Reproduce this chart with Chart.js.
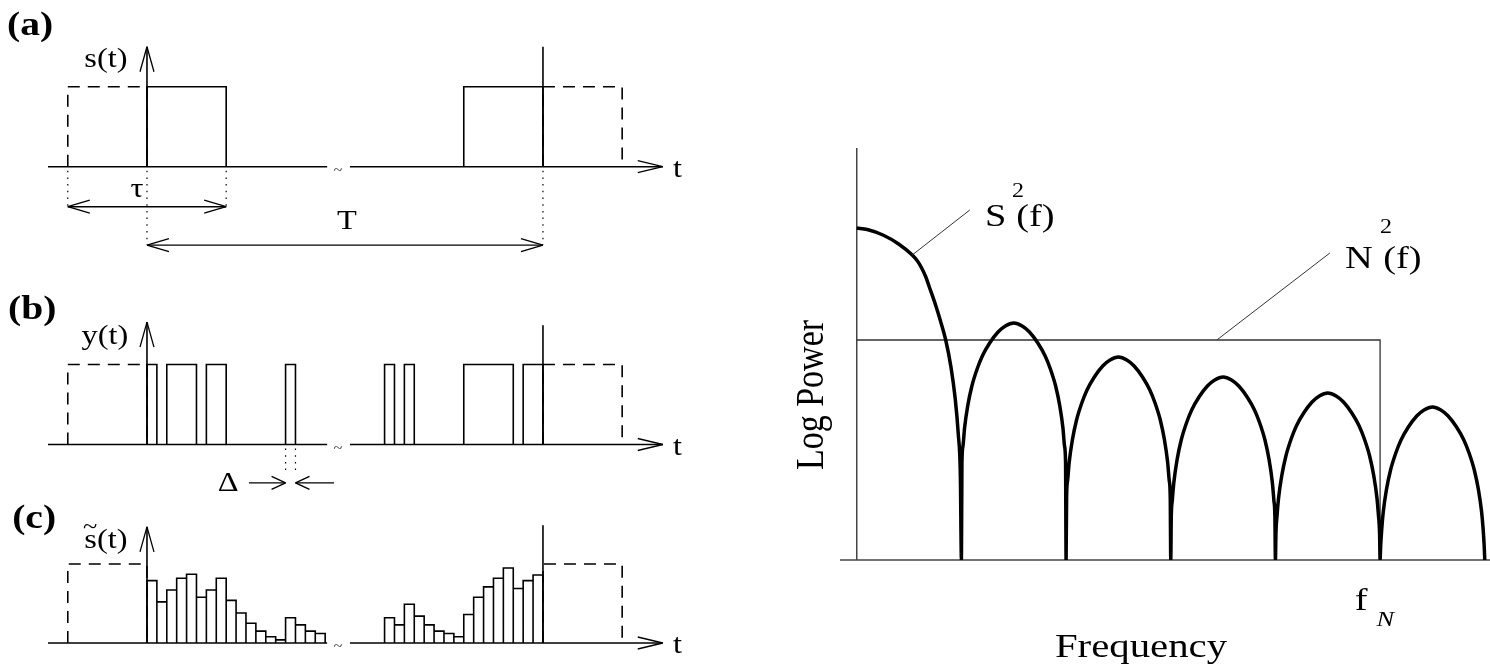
<!DOCTYPE html>
<html>
<head>
<meta charset="utf-8">
<script src="https://cdn.jsdelivr.net/npm/chart.js@4.4.1/dist/chart.umd.min.js"></script>
<style>
  html, body { margin: 0; padding: 0; background: #fff; width: 1490px; height: 669px; overflow: hidden; }
  canvas { position: absolute; }
</style>
</head>
<body>
<canvas id="panelA" width="700" height="260" style="left:0;top:0"></canvas>
<canvas id="panelB" width="700" height="230" style="left:0;top:270px"></canvas>
<canvas id="panelC" width="700" height="169" style="left:0;top:500px"></canvas>
<canvas id="spectrum" width="710" height="669" style="left:780px;top:0"></canvas>
<script>
// Time in units of the sample width Δ, amplitude 0..1
const tau = 8;
const period = 40;

// (a) the pulse s(t) and its dashed periodic copies
const pulseStart = [0, 32];
const pulseEnd = [8, 40];
const ghostStart = [-8, 40];
const ghostEnd = [0, 48];

// (b) the clipped record y(t)
const clipStart = [0, 2, 6, 14, 24, 26, 32, 38];
const clipEnd = [1, 5, 8, 15, 25, 27, 37, 40];

// (c) reconstructed s~(t), one bar per Δ
const histLeftStart = 0;
const histLeft = [0.79, 0.52, 0.67, 0.82, 0.87, 0.58, 0.67, 0.82, 0.54, 0.38, 0.25, 0.15, 0.08, 0.04, 0.32, 0.23, 0.15, 0.12];
const histRightStart = 24;
const histRight = [0.32, 0.23, 0.49, 0.34, 0.23, 0.15, 0.12, 0.08, 0.36, 0.58, 0.71, 0.82, 0.95, 0.69, 0.79, 0.86];

// right: log power spectrum, frequency in units of 1/tau
const spectrumFreq = [
  0.00, 0.10, 0.25, 0.40, 0.53, 0.58, 0.62, 0.66, 0.69, 0.75, 0.80, 0.85, 0.90, 0.94, 0.97, 0.99, 1.00,
  1.005, 1.015, 1.03, 1.06, 1.10, 1.15, 1.20, 1.27, 1.35, 1.42, 1.50, 1.58, 1.65, 1.73, 1.80, 1.85, 1.90, 1.94, 1.97, 1.985, 1.995, 2.00,
  2.005, 2.015, 2.03, 2.06, 2.10, 2.15, 2.20, 2.27, 2.35, 2.42, 2.50, 2.58, 2.65, 2.73, 2.80, 2.85, 2.90, 2.94, 2.97, 2.985, 2.995, 3.00,
  3.005, 3.015, 3.03, 3.06, 3.10, 3.15, 3.20, 3.27, 3.35, 3.42, 3.50, 3.58, 3.65, 3.73, 3.80, 3.85, 3.90, 3.94, 3.97, 3.985, 3.995, 4.00,
  4.005, 4.015, 4.03, 4.06, 4.10, 4.15, 4.20, 4.27, 4.35, 4.42, 4.50, 4.58, 4.65, 4.73, 4.80, 4.85, 4.90, 4.94, 4.97, 4.985, 4.995, 5.00,
  5.005, 5.015, 5.03, 5.06, 5.10, 5.15, 5.20, 5.27, 5.35, 5.42, 5.50, 5.58, 5.65, 5.73, 5.80, 5.85, 5.90, 5.94, 5.97, 5.985, 5.995, 6.00
];
const spectrumPower = [
  33.2, 33.05, 32.5, 31.6, 30.5, 29.9, 29.2, 28.3, 27.4, 25.6, 23.9, 22.0, 19.3, 16.2, 12.6, 8.4, 0,
  9.7, 11.4, 13.2, 15.4, 17.4, 19.1, 20.4, 21.7, 22.8, 23.4, 23.7, 23.4, 22.8, 21.7, 20.4, 19.1, 17.4, 15.4, 13.2, 11.4, 9.7, 0,
  6.3, 8.0, 9.8, 12.0, 14.0, 15.7, 17.0, 18.3, 19.4, 20.0, 20.3, 20.0, 19.4, 18.3, 17.0, 15.7, 14.0, 12.0, 9.8, 8.0, 6.3, 0,
  4.3, 6.0, 7.8, 10.0, 12.0, 13.7, 15.0, 16.3, 17.4, 18.0, 18.3, 18.0, 17.4, 16.3, 15.0, 13.7, 12.0, 10.0, 7.8, 6.0, 4.3, 0,
  2.7, 4.4, 6.2, 8.4, 10.4, 12.1, 13.4, 14.7, 15.8, 16.4, 16.7, 16.4, 15.8, 14.7, 13.4, 12.1, 10.4, 8.4, 6.2, 4.4, 2.7, 0,
  1.3, 3.0, 4.8, 7.0, 9.0, 10.7, 12.0, 13.3, 14.4, 15.0, 15.3, 15.0, 14.4, 13.3, 12.0, 10.7, 9.0, 7.0, 4.8, 3.0, 1.3, 0
];
const noiseFreq = [0, 5, 5];
const noisePower = [22.0, 22.0, 0];
const nyquist = 5;

const INK = '#000';
const SERIF = '"Liberation Serif", "DejaVu Serif", serif';
const STRETCH = 1.2;

function pulsePoints(starts, ends) {
  const pts = [];
  starts.forEach((a, i) => {
    const b = ends[i];
    pts.push({x: a, y: 0}, {x: a, y: 1}, {x: b, y: 1}, {x: b, y: 0}, {x: b, y: null});
  });
  return pts;
}

function histPoints(start, heights) {
  const pts = [{x: start, y: 0}];
  heights.forEach((h, i) => {
    pts.push({x: start + i, y: h}, {x: start + i + 1, y: h}, {x: start + i + 1, y: 0});
  });
  return pts;
}

function seg(ctx, x1, y1, x2, y2) {
  ctx.beginPath();
  ctx.moveTo(x1, y1);
  ctx.lineTo(x2, y2);
  ctx.stroke();
}

// open arrowhead: two strokes back from the tip
function head(ctx, tx, ty, dx, dy, len, half) {
  const n = Math.hypot(dx, dy), ux = dx / n, uy = dy / n;
  const bx = tx - ux * len, by = ty - uy * len;
  seg(ctx, tx, ty, bx - uy * half, by + ux * half);
  seg(ctx, tx, ty, bx + uy * half, by - ux * half);
}

function drawText(ctx, str, x, y, size, opt) {
  opt = opt || {};
  ctx.save();
  ctx.translate(x, y);
  if (opt.rotate) {
    ctx.rotate(opt.rotate);
    ctx.scale(1, STRETCH);
  } else {
    ctx.scale(STRETCH, 1);
  }
  ctx.font = (opt.italic ? 'italic ' : '') + (opt.bold ? 'bold ' : '') + size + 'px ' + SERIF;
  ctx.fillStyle = INK;
  ctx.textAlign = opt.align || 'center';
  ctx.textBaseline = opt.baseline || 'middle';
  ctx.fillText(str, 0, 0);
  ctx.restore();
}

// decorations for the three time panels, in data units
const timeSpecs = {
  panelA: {
    arrowTop: 1.5, markTop: 1.5,
    dotted: [[-8, -0.5], [8, -0.5], [0, -0.98], [40, -0.98]],
    arrows: [[-8, 8, -0.5, true, true], [0, 40, -0.98, true, true]],
    labels: [
      {text: '(a)', t: -11.8, v: 1.75, size: 33, bold: true},
      {text: 's(t)', t: -4.15, v: 1.33, size: 27},
      {text: 'τ', t: -1.0, v: -0.29, size: 27},
      {text: 'T', t: 20.2, v: -0.69, size: 27}
    ]
  },
  panelB: {
    arrowTop: 1.53, markTop: 1.49,
    dotted: [[14, -0.36], [15, -0.36]],
    arrows: [[10.3, 14, -0.48, false, true], [18.9, 15, -0.48, false, true]],
    labels: [
      {text: '(b)', t: -11.6, v: 1.68, size: 33, bold: true},
      {text: 'y(t)', t: -4.25, v: 1.35, size: 27},
      {text: 'Δ', t: 8.2, v: -0.49, size: 27}
    ]
  },
  panelC: {
    arrowTop: 1.47, markTop: 1.49,
    dotted: [],
    arrows: [],
    labels: [
      {text: '(c)', t: -11.4, v: 1.57, size: 33, bold: true},
      {text: 's(t)', t: -4.15, v: 1.29, size: 27},
      {text: '~', t: -5.75, v: 1.47, size: 22}
    ]
  }
};

const timeDecor = {
  id: 'timeDecor',
  beforeDatasetsDraw(chart) {
    const {ctx, scales: {x, y}} = chart;
    const s = timeSpecs[chart.canvas.id];
    const y0 = y.getPixelForValue(0);
    ctx.save();
    ctx.strokeStyle = INK;
    ctx.lineWidth = 1.6;
    // broken time axis
    seg(ctx, x.getPixelForValue(-10), y0, x.getPixelForValue(18.2), y0);
    seg(ctx, x.getPixelForValue(20.5), y0, x.getPixelForValue(52.1), y0);
    // amplitude axis at t = 0 and marker line at t = T
    const ax = x.getPixelForValue(0);
    seg(ctx, ax, y0, ax, y.getPixelForValue(s.arrowTop));
    const tx = x.getPixelForValue(period);
    seg(ctx, tx, y0, tx, y.getPixelForValue(s.markTop));
    ctx.restore();
  },
  afterDatasetsDraw(chart) {
    const {ctx, scales: {x, y}} = chart;
    const s = timeSpecs[chart.canvas.id];
    const y0 = y.getPixelForValue(0);
    ctx.save();
    ctx.strokeStyle = INK;
    ctx.lineWidth = 1.3;
    head(ctx, x.getPixelForValue(0), y.getPixelForValue(s.arrowTop), 0, -1, 25, 7);
    head(ctx, x.getPixelForValue(52.1), y0, 1, 0, 25, 6);

    ctx.setLineDash([1.5, 5.2]);
    ctx.lineWidth = 1.2;
    s.dotted.forEach(([t, v]) => {
      const px = x.getPixelForValue(t);
      seg(ctx, px, y0 + 4, px, y.getPixelForValue(v));
    });
    ctx.setLineDash([]);

    ctx.lineWidth = 1.4;
    s.arrows.forEach(([t0, t1, v, h0, h1]) => {
      const p0 = x.getPixelForValue(t0), p1 = x.getPixelForValue(t1), py = y.getPixelForValue(v);
      seg(ctx, p0, py, p1, py);
      const len = Math.abs(p1 - p0) > 60 ? 22 : 14;
      if (h1) head(ctx, p1, py, p1 - p0, 0, len, 6.5);
      if (h0) head(ctx, p0, py, p0 - p1, 0, len, 6.5);
    });
    ctx.restore();

    s.labels.forEach(l => drawText(ctx, l.text, x.getPixelForValue(l.t), y.getPixelForValue(l.v), l.size, {bold: l.bold}));
    drawText(ctx, 't', x.getPixelForValue(53.6), y.getPixelForValue(-0.04), 27);
    drawText(ctx, '~', x.getPixelForValue(19.3), y0 + 4, 13);
  }
};

function lineSet(points, extra) {
  return Object.assign({
    data: points,
    borderColor: INK,
    borderWidth: 1.6,
    pointRadius: 0,
    tension: 0,
    fill: false,
    spanGaps: false
  }, extra || {});
}

function timePanel(id, top, baseline, unit, yMin, yMax, datasets) {
  const c = document.getElementById(id);
  new Chart(c, {
    type: 'line',
    data: {datasets: datasets},
    options: {
      responsive: false,
      animation: false,
      devicePixelRatio: 1,
      events: [],
      layout: {
        padding: {
          left: 46,
          right: 32.3,
          top: baseline - yMax * unit - top,
          bottom: top + c.height - (baseline - yMin * unit)
        }
      },
      scales: {
        x: {type: 'linear', min: -10.2, max: 52.6, display: false},
        y: {type: 'linear', min: yMin, max: yMax, display: false}
      },
      plugins: {legend: {display: false}, tooltip: {enabled: false}}
    },
    plugins: [timeDecor]
  });
}

const dashed = () => lineSet(pulsePoints(ghostStart, ghostEnd), {borderDash: [12, 8], order: 2});

timePanel('panelA', 0, 166.7, 80, -1.1, 1.5, [
  dashed(),
  lineSet(pulsePoints(pulseStart, pulseEnd), {order: 1})
]);

timePanel('panelB', 270, 444.5, 80, -0.62, 1.55, [
  dashed(),
  lineSet(pulsePoints(clipStart, clipEnd), {order: 1})
]);

timePanel('panelC', 500, 643, 79, -0.25, 1.48, [
  dashed(),
  lineSet(histPoints(histLeftStart, histLeft), {order: 1}),
  lineSet(histPoints(histRightStart, histRight), {order: 1})
]);

// spectrum panel
const specDecor = {
  id: 'specDecor',
  beforeDatasetsDraw(chart) {
    const {ctx, chartArea: a, scales: {x, y}} = chart;
    const y0 = y.getPixelForValue(0), x0 = x.getPixelForValue(0);
    ctx.save();
    ctx.strokeStyle = '#444';
    ctx.lineWidth = 1.5;
    seg(ctx, x0, a.top, x0, y0);
    seg(ctx, a.left, y0, a.right, y0);
    ctx.restore();
  },
  afterDatasetsDraw(chart) {
    const {ctx, scales: {x, y}} = chart;
    const X = v => x.getPixelForValue(v), Y = v => y.getPixelForValue(v);
    ctx.save();
    ctx.strokeStyle = '#333';
    ctx.lineWidth = 1;
    seg(ctx, X(0.53), Y(30.5), X(1.08), Y(35.0));
    seg(ctx, X(3.44), Y(22.0), X(4.52), Y(30.7));
    ctx.restore();

    drawText(ctx, 'S', X(1.226), Y(33.4), 32, {align: 'left', baseline: 'alphabetic'});
    drawText(ctx, '2', X(1.484), Y(36.3), 20, {align: 'left', baseline: 'alphabetic'});
    drawText(ctx, '(f)', X(1.523), Y(33.4), 32, {align: 'left', baseline: 'alphabetic'});

    drawText(ctx, 'N', X(4.665), Y(29.2), 32, {align: 'left', baseline: 'alphabetic'});
    drawText(ctx, '2', X(4.999), Y(32.7), 20, {align: 'left', baseline: 'alphabetic'});
    drawText(ctx, '(f)', X(5.03), Y(29.2), 32, {align: 'left', baseline: 'alphabetic'});

    drawText(ctx, 'f', X(nyquist - 0.18), Y(-4.2), 32);
    drawText(ctx, 'N', X(nyquist + 0.05), Y(-6.0), 22, {italic: true});

    drawText(ctx, 'Frequency', X(2.716), Y(-8.8), 34);
    drawText(ctx, 'Log Power', X(-0.428), Y(16.5), 34, {rotate: -Math.PI / 2});
  }
};

new Chart(document.getElementById('spectrum'), {
  type: 'line',
  data: {
    datasets: [
      {
        data: spectrumFreq.map((f, i) => ({x: f, y: spectrumPower[i]})),
        borderColor: INK,
        borderWidth: 3.5,
        pointRadius: 0,
        cubicInterpolationMode: 'monotone',
        fill: false
      },
      {
        data: noiseFreq.map((f, i) => ({x: f, y: noisePower[i]})),
        borderColor: '#333',
        borderWidth: 1.3,
        pointRadius: 0,
        tension: 0,
        fill: false
      }
    ]
  },
  options: {
    responsive: false,
    animation: false,
    devicePixelRatio: 1,
    events: [],
    layout: {padding: {left: 60, right: 0, top: 148, bottom: 109}},
    scales: {
      x: {type: 'linear', min: -0.16, max: 6.05, display: false},
      y: {type: 'linear', min: 0, max: 41.2, display: false}
    },
    plugins: {legend: {display: false}, tooltip: {enabled: false}}
  },
  plugins: [specDecor]
});
</script>
</body>
</html>
